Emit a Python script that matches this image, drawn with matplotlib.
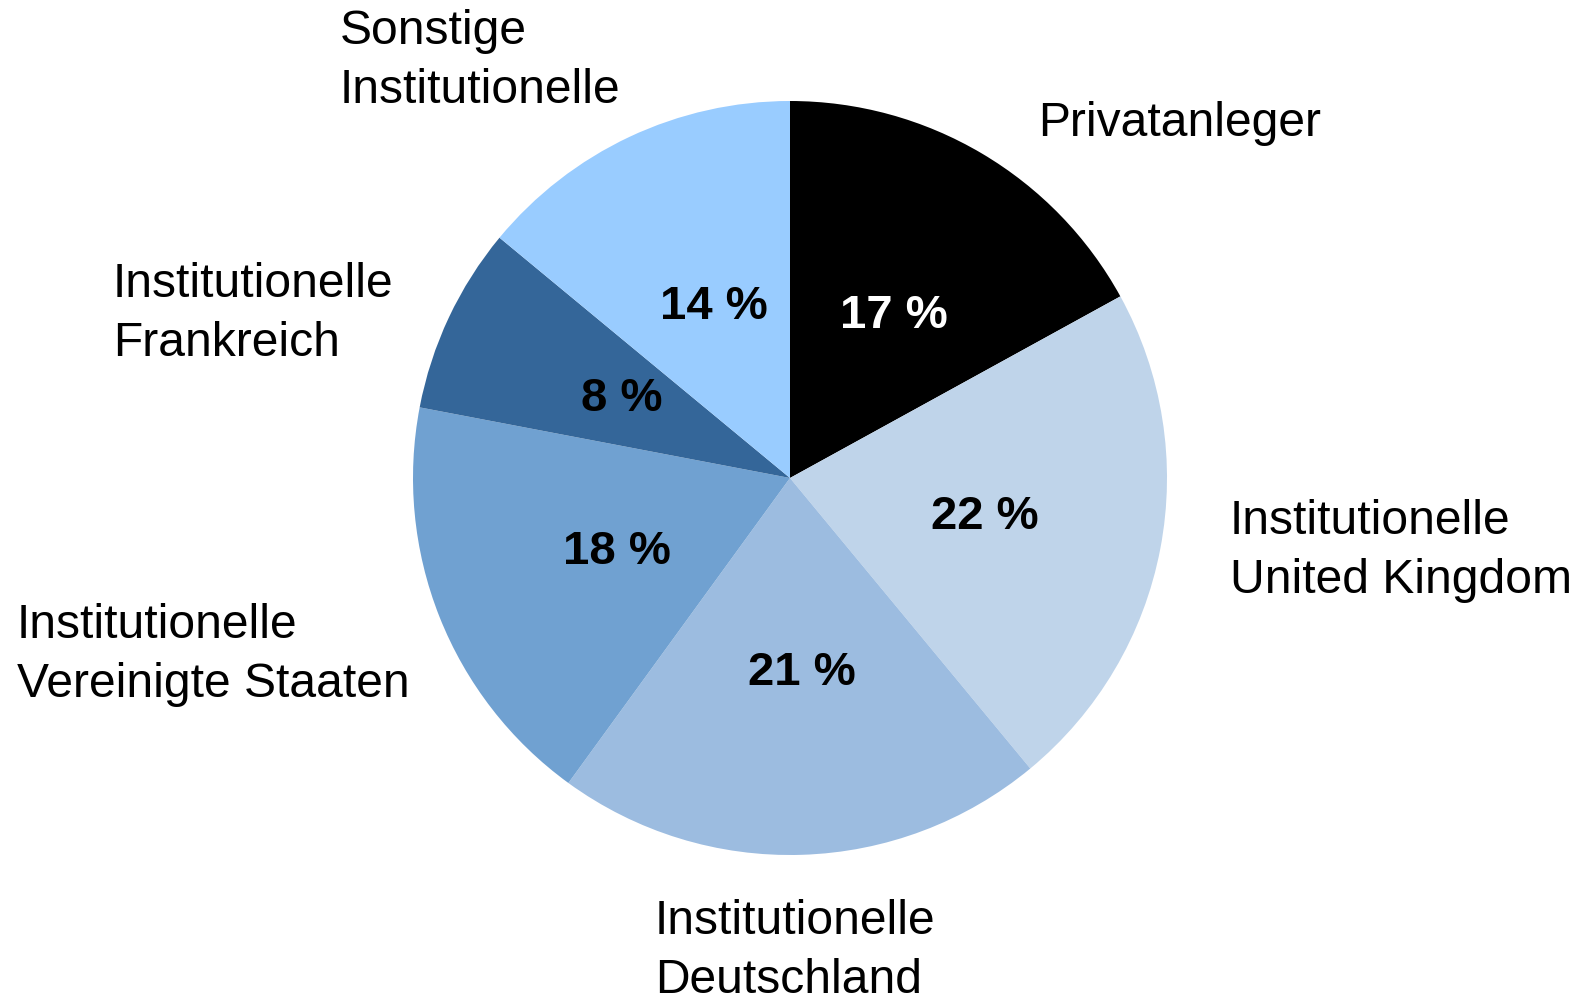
import matplotlib
matplotlib.use("Agg")
import matplotlib.pyplot as plt
import matplotlib.transforms as mtransforms

categories = ["Privatanleger", "Institutionelle\nUnited Kingdom", "Institutionelle\nDeutschland",
              "Institutionelle\nVereinigte Staaten", "Institutionelle\nFrankreich",
              "Sonstige\nInstitutionelle"]
values = [17, 22, 21, 18, 8, 14]
colors = ["#000000", "#BFD4EA", "#9CBCE0", "#70A1D1", "#346699", "#99CCFF"]
pct_colors = ["white", "black", "black", "black", "black", "black"]
# label anchor positions in pixels (left edge, vertical centre)
label_pos = [(1038, 124), (1230, 551), (655, 951), (17, 655), (113, 314), (340, 61)]

W, H = 1584, 1003
fig = plt.figure(figsize=(W / 100, H / 100), dpi=100)
cx, cy, r = 790, 479, 377
ax = fig.add_axes([(cx - r) / W, (H - cy - r) / H, 2 * r / W, 2 * r / H])
wedges, _, autotexts = ax.pie(values, colors=colors, startangle=90, counterclock=False,
                              radius=1, autopct=lambda p: f"{p:.0f} %", pctdistance=0.51,
                              wedgeprops=dict(linewidth=0),
                              textprops=dict(fontsize=34, fontweight="bold",
                                             family="Liberation Sans"))
shift = mtransforms.ScaledTranslation(6 / 100, -2 / 100, fig.dpi_scale_trans)
for t, c in zip(autotexts, pct_colors):
    t.set_color(c)
    t.set_transform(t.get_transform() + shift)
ax.set_xlim(-1, 1)
ax.set_ylim(-1, 1)
ax.set_aspect("equal")
ax.axis("off")

for lab, (px, py) in zip(categories, label_pos):
    fig.text(px / W, 1 - py / H, lab, ha="left", va="center", fontsize=34.6,
             family="Liberation Sans", linespacing=1.4)

fig.savefig("out.png", dpi=100, facecolor="white")
